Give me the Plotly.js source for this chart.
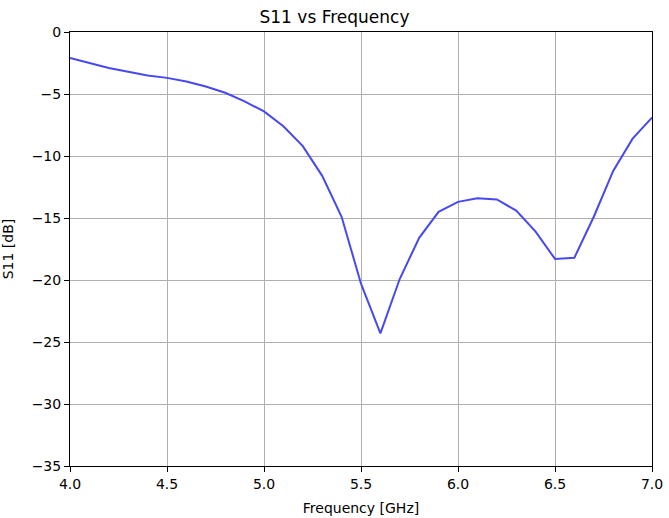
<!DOCTYPE html>
<html><head><meta charset="utf-8">
<script src="https://cdn.plot.ly/plotly-3.0.1.min.js"></script>
<style>body{margin:0;padding:0;background:#fff}#c{width:669px;height:518px}</style>
</head><body><div id="c"></div>
<script>
const freq = [4.0,4.1,4.2,4.3,4.4,4.5,4.6,4.7,4.8,4.9,5.0,5.1,5.2,5.3,5.4,5.5,5.6,5.7,5.8,5.9,6.0,6.1,6.2,6.3,6.4,6.5,6.6,6.7,6.8,6.9,7.0];
const s11 = [-2.1,-2.5,-2.9,-3.2,-3.5,-3.7,-4.0,-4.4,-4.9,-5.6,-6.4,-7.6,-9.2,-11.6,-14.9,-20.3,-24.3,-19.9,-16.6,-14.5,-13.7,-13.4,-13.5,-14.4,-16.1,-18.3,-18.2,-14.9,-11.2,-8.6,-6.9];
const xTicks = [4.0,4.5,5.0,5.5,6.0,6.5,7.0];
const xTickText = ['4.0','4.5','5.0','5.5','6.0','6.5','7.0'];
const yTicks = [0,-5,-10,-15,-20,-25,-30,-35];
const yTickText = ['0','−5','−10','−15','−20','−25','−30','−35'];

const font = {family:'DejaVu Sans', size:14, color:'#000'};
Plotly.newPlot('c', [{
  x: freq, y: s11, type:'scatter', mode:'lines',
  line:{color:'#4848f0', width:2}
}], {
  width:669, height:518,
  margin:{l:70, r:17, t:32, b:52},
  paper_bgcolor:'#fff', plot_bgcolor:'#fff',
  font: font,
  showlegend:false,
  title:{text:'S11 vs Frequency', font:{family:'DejaVu Sans', size:17, color:'#000'}, x:0.5, xanchor:'center', y:0.978, yanchor:'top'},
  xaxis:{range:[4,7], tickvals:xTicks, ticktext:xTickText, showgrid:true, gridcolor:'#b0b0b0', gridwidth:1,
    showline:true, linecolor:'#000', linewidth:1, mirror:true, ticks:'outside', ticklen:5, tickcolor:'#000',
    zeroline:false, tickfont:font, title:{text:'Frequency [GHz]', font:font, standoff:12}},
  yaxis:{range:[-35,0], tickvals:yTicks, ticktext:yTickText, showgrid:true, gridcolor:'#b0b0b0', gridwidth:1,
    showline:true, linecolor:'#000', linewidth:1, mirror:true, ticks:'outside', ticklen:5, tickcolor:'#000',
    zeroline:false, tickfont:font, title:{text:'S11 [dB]', font:font, standoff:14}}
}, {staticPlot:true, displayModeBar:false});
</script></body></html>
